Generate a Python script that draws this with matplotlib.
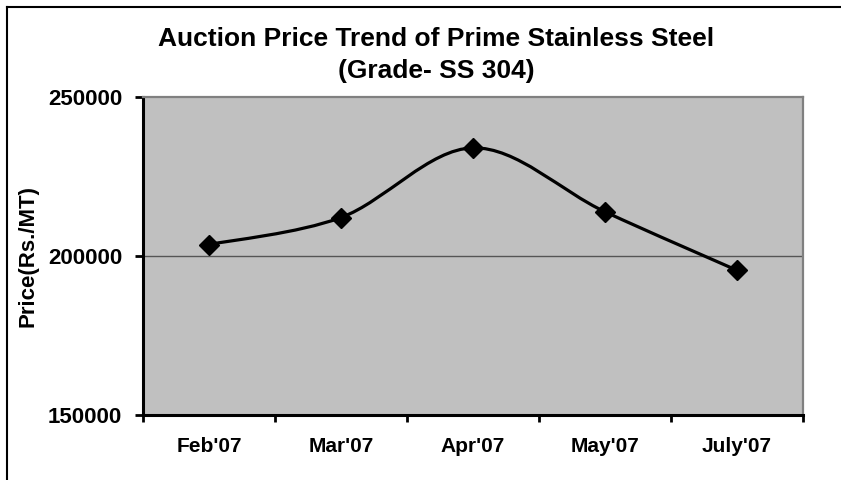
import numpy as np
import matplotlib
matplotlib.use("Agg")
import matplotlib.pyplot as plt
from matplotlib.path import Path
from matplotlib.patches import PathPatch
from matplotlib.lines import Line2D

plt.rcParams['font.family'] = ['Liberation Sans', 'DejaVu Sans']
plt.rcParams['font.weight'] = 'bold'

# data
months = ["Feb'07", "Mar'07", "Apr'07", "May'07", "July'07"]
prices = [203600, 212100, 234000, 213900, 195500]
y_ticks = [150000, 200000, 250000]


def smooth_path(xs, ys):
    # excel style smoothed line (catmull-rom as cubic bezier)
    pts = np.column_stack([xs, ys]).astype(float)
    n = len(pts)
    verts = [pts[0]]
    codes = [Path.MOVETO]
    for i in range(n - 1):
        p0 = pts[i - 1] if i > 0 else pts[i]
        p1 = pts[i]
        p2 = pts[i + 1]
        p3 = pts[i + 2] if i + 2 < n else pts[i + 1]
        c1 = p1 + (p2 - p0) / 6.0
        c2 = p2 - (p3 - p1) / 6.0
        verts += [c1, c2, p2]
        codes += [Path.CURVE4] * 3
    return Path(verts, codes)


fig = plt.figure(figsize=(8.41, 4.80), dpi=100)
ax = fig.add_axes([143 / 841, 1 - 415 / 480, (803 - 143) / 841, (415 - 97) / 480])
ax.set_facecolor('#C0C0C0')

x = np.arange(len(months))
ax.add_patch(PathPatch(smooth_path(x, prices), facecolor='none',
                       edgecolor='black', lw=2.3, zorder=3))
ax.plot(x, prices, linestyle='none', marker='D', markersize=10,
        color='black', zorder=4)

ax.set_xlim(-0.5, len(months) - 0.5)
ax.set_ylim(150000, 250000)
ax.set_yticks(y_ticks)
ax.set_yticklabels([str(v) for v in y_ticks], fontsize=16, fontweight='bold')
ax.axhline(200000, color='#555555', lw=1.0, zorder=1)

ax.set_xticks(np.arange(-0.5, len(months)), minor=False)
ax.set_xticklabels([])
ax.set_xticks(x, minor=True)
ax.set_xticklabels(months, minor=True, fontsize=15, fontweight='bold')
ax.tick_params(axis='x', which='major', direction='out', length=5, width=2)
ax.tick_params(axis='x', which='minor', length=0, pad=16)
ax.tick_params(axis='y', direction='out', length=6, width=2, pad=9)

for s in ['left', 'bottom']:
    ax.spines[s].set_color('black')
    ax.spines[s].set_linewidth(2.2)
for s in ['top', 'right']:
    ax.spines[s].set_color('#808080')
    ax.spines[s].set_linewidth(1.6)

ax.set_ylabel('Price(Rs./MT)', fontsize=16, fontweight='bold', labelpad=7)

fig.text(436 / 841, 1 - 39 / 480, 'Auction Price Trend of Prime Stainless Steel',
         ha='center', va='center', fontsize=19, fontweight='bold')
fig.text(436 / 841, 1 - 71 / 480, '(Grade- SS 304)',
         ha='center', va='center', fontsize=19, fontweight='bold')

# chart area border (cropped on right and bottom)
fig.add_artist(Line2D([7 / 841, 7 / 841], [0, 1 - 7 / 480], color='black', lw=1.5,
                      transform=fig.transFigure))
fig.add_artist(Line2D([7 / 841, 1], [1 - 7 / 480, 1 - 7 / 480], color='black', lw=1.5,
                      transform=fig.transFigure))

fig.savefig('out.png', dpi=100)
